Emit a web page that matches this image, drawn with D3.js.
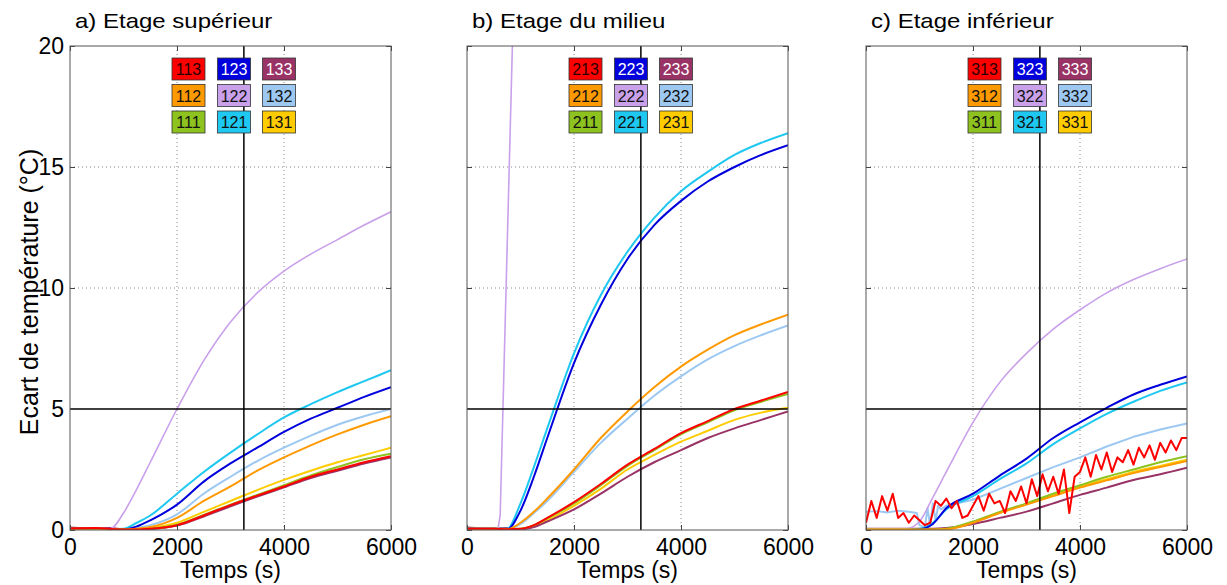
<!DOCTYPE html>
<html>
<head>
<meta charset="utf-8">
<script src="https://cdn.jsdelivr.net/npm/d3@7"></script>
<style>
  body { margin: 0; background: #fff; }
  text { font-family: "Liberation Sans", Arial, sans-serif; fill: #000; }
</style>
</head>
<body>
<div id="chart"></div>
<script>
// shared time grid (s) for the smooth curves
const tGrid = [0, 500, 750, 1000, 1250, 1500, 2000, 2500, 3000, 3500, 4000, 4500, 5000, 5500, 6000];

// a) Etage superieur
const a11 = [0.05, 0.05, 0.03, 0.02, 0.02, 0.05, 0.22, 0.62, 1.05, 1.45, 1.85, 2.25, 2.6, 2.92, 3.15];
const a12 = [0.05, 0.05, 0.03, 0.02, 0.05, 0.12, 0.5, 1.2, 1.8, 2.45, 3.0, 3.5, 3.95, 4.35, 4.7];
const a13 = [0.06, 0.08, 0.04, 0.02, 0.02, 0.05, 0.2, 0.6, 1.03, 1.42, 1.8, 2.2, 2.5, 2.8, 3.05];
const a21 = [0.05, 0.05, 0.03, 0.05, 0.3, 0.6, 1.5, 2.4, 3.2, 3.95, 4.65, 5.2, 5.7, 6.15, 6.6];
const a22 = [0.05, 0.05, 0.05, 0.7, 1.7, 2.8, 5.0, 7.0, 8.6, 9.8, 10.7, 11.4, 12.0, 12.6, 13.15];
const a23 = [0.05, 0.05, 0.03, 0.03, 0.15, 0.4, 1.05, 2.0, 2.75, 3.4, 4.05, 4.6, 5.05, 5.5, 5.9];
const a31 = [0.05, 0.05, 0.03, 0.02, 0.03, 0.08, 0.3, 0.75, 1.2, 1.65, 2.07, 2.45, 2.8, 3.1, 3.4];
const a32 = [0.05, 0.05, 0.03, 0.02, 0.08, 0.2, 0.65, 1.5, 2.2, 2.85, 3.4, 3.9, 4.35, 4.7, 5.0];
const a33 = [0.1, 0.06, 0.08, 0.03, 0.02, 0.04, 0.18, 0.56, 0.98, 1.38, 1.76, 2.15, 2.45, 2.75, 3.0];

// b) Etage du milieu
const b11 = [0.05, 0.05, 0.03, 0.05, 0.2, 0.48, 1.1, 1.85, 2.65, 3.3, 3.95, 4.45, 4.95, 5.3, 5.62];
const b12 = [0.05, 0.05, 0.03, 0.3, 0.75, 1.3, 2.5, 3.8, 4.9, 5.9, 6.75, 7.45, 8.05, 8.5, 8.9];
const b13 = [0.05, 0.05, 0.03, 0.05, 0.2, 0.5, 1.15, 1.9, 2.7, 3.35, 4.0, 4.5, 5.0, 5.35, 5.7];
const b21 = [0.05, 0.05, 0.05, 1.1, 2.6, 4.2, 7.3, 9.7, 11.5, 12.9, 14.0, 14.8, 15.5, 16.0, 16.4];
const b22Times = [0, 300, 580, 620, 860];
const b22 = [0.05, 0.08, 0.05, 0.6, 21];
const b23 = [0.05, 0.05, 0.02, 0.8, 2.2, 3.8, 6.9, 9.3, 11.2, 12.6, 13.6, 14.4, 15.0, 15.5, 15.9];
const b31 = [0.05, 0.05, 0.03, 0.04, 0.15, 0.4, 1.0, 1.7, 2.5, 3.1, 3.65, 4.1, 4.55, 4.85, 5.05];
const b32 = [0.05, 0.05, 0.03, 0.25, 0.7, 1.2, 2.4, 3.6, 4.6, 5.55, 6.35, 7.05, 7.6, 8.05, 8.45];
const b33 = [0.1, 0.06, 0.08, 0.03, 0.12, 0.35, 0.85, 1.5, 2.2, 2.8, 3.3, 3.8, 4.2, 4.55, 4.9];

// c) Etage inferieur
const c11 = [0.02, 0.02, 0.02, 0.02, 0.02, 0.05, 0.35, 0.75, 1.1, 1.5, 1.85, 2.2, 2.5, 2.8, 3.05];
const c12 = [0.02, 0.02, 0.02, 0.02, 0.02, 0.03, 0.3, 0.7, 1.05, 1.4, 1.75, 2.05, 2.35, 2.6, 2.85];
const c13Times = d3.range(0, 6001, 100);
const c13 = [0.3, 1.2, 0.5, 1.4, 0.8, 1.5, 0.5, 0.7, 0.3, 0.6,
             0.4, 0.2, 0.3, 1.2, 1.0, 1.3, 0.9, 1.2, 0.5, 0.6,
             1.0, 1.4, 0.8, 1.5, 1.1, 1.2, 0.7, 1.6, 1.2, 1.8,
             1.1, 2.1, 1.4, 2.3, 1.6, 2.2, 1.5, 2.5, 0.7, 2.2,
             2.4, 3.0, 2.2, 3.1, 2.5, 3.2, 2.4, 3.0, 2.8, 3.3,
             2.7, 3.4, 3.0, 3.5, 2.9, 3.6, 3.2, 3.7, 3.3, 3.8, 3.8];
const c21 = [0.02, 0.02, 0.02, 0.05, 0.3, 0.85, 1.4, 2.1, 2.75, 3.55, 4.2, 4.8, 5.3, 5.75, 6.1];
const c22 = [0.05, 0.05, 0.05, 0.35, 1.35, 2.4, 4.45, 6.1, 7.3, 8.3, 9.1, 9.8, 10.35, 10.8, 11.2];
const c23 = [0, 0, 0, 0.03, 0.25, 0.9, 1.5, 2.25, 2.95, 3.8, 4.45, 5.05, 5.6, 6.0, 6.35];
const c31 = [0.02, 0.02, 0.02, 0.02, 0.02, 0.04, 0.33, 0.72, 1.08, 1.45, 1.8, 2.1, 2.4, 2.65, 2.9];
const c32Times = [0, 200, 400, 600, 800, 950, 1000, 1100, 1150, 1200, 1250, 1300, 1350, 1400, 1500,
                  2000, 2500, 3000, 3500, 4000, 4500, 5000, 5500, 6000];
const c32 = [0.75, 0.78, 0.72, 0.8, 0.75, 0.7, 0.2, 0.1, 0.9, 0.15, 1.1, 0.4, 1.0, 0.85, 1.0,
             1.25, 1.7, 2.15, 2.6, 3.0, 3.45, 3.85, 4.15, 4.4];
const c33 = [0.05, 0.05, 0.05, 0.05, 0.05, 0.08, 0.25, 0.5, 0.76, 1.1, 1.45, 1.75, 2.07, 2.3, 2.57];

const titles = ["a) Etage supérieur", "b) Etage du milieu", "c) Etage inférieur"];
const suffixes = ["11", "12", "13", "21", "22", "23", "31", "32", "33"];
const colors = ["#8dc21f", "#ff9900", "#ff0000", "#1ec8f0", "#c9a0ea", "#0000dd", "#ffcc00", "#9cc8f2", "#993366"];
const legendRows = [["13", "23", "33"], ["12", "22", "32"], ["11", "21", "31"]];
const lightText = ["23", "33"];
const drawOrder = ["31", "32", "33", "21", "22", "23", "11", "12", "13"];
const xTicks = [0, 2000, 4000, 6000];
const yTicks = [0, 5, 10, 15, 20];
const xGrid = [2000, 4000];
const yGrid = [10, 15];
const refTime = 3250;
const refTemp = 5;

const zip = (times, vals, jagged) => {
  const pts = times.map((t, i) => [t, vals[i]]);
  pts.jagged = !!jagged;
  return pts;
};
const panels = [
  { left: 70, series: { "11": zip(tGrid, a11), "12": zip(tGrid, a12), "13": zip(tGrid, a13),
      "21": zip(tGrid, a21), "22": zip(tGrid, a22), "23": zip(tGrid, a23),
      "31": zip(tGrid, a31), "32": zip(tGrid, a32), "33": zip(tGrid, a33) } },
  { left: 467, series: { "11": zip(tGrid, b11), "12": zip(tGrid, b12), "13": zip(tGrid, b13),
      "21": zip(tGrid, b21), "22": zip(b22Times, b22, true), "23": zip(tGrid, b23),
      "31": zip(tGrid, b31), "32": zip(tGrid, b32), "33": zip(tGrid, b33) } },
  { left: 866, series: { "11": zip(tGrid, c11), "12": zip(tGrid, c12), "13": zip(c13Times, c13, true),
      "21": zip(tGrid, c21), "22": zip(tGrid, c22), "23": zip(tGrid, c23),
      "31": zip(tGrid, c31), "32": zip(c32Times, c32, true), "33": zip(tGrid, c33) } }
];

const W = 1227, H = 585;
const pw = 321, plotTop = 46, plotBottom = 530;
const color = d3.scaleOrdinal().domain(suffixes).range(colors);

const svg = d3.select("#chart").append("svg")
  .attr("width", W).attr("height", H)
  .style("background", "#fff");

const y = d3.scaleLinear().domain([0, 20]).range([plotBottom, plotTop]);

panels.forEach((p, pi) => {
  const left = p.left, right = left + pw;
  const x = d3.scaleLinear().domain([0, 6000]).range([left, right]);
  const g = svg.append("g");

  g.append("clipPath").attr("id", "clip" + pi)
    .append("rect").attr("x", left).attr("y", plotTop).attr("width", pw).attr("height", plotBottom - plotTop);

  // dotted grid
  g.selectAll(".gx").data(xGrid).join("line")
    .attr("x1", d => x(d)).attr("x2", d => x(d)).attr("y1", plotTop).attr("y2", plotBottom)
    .attr("stroke", "#888").attr("stroke-dasharray", "1,3");
  g.selectAll(".gy").data(yGrid).join("line")
    .attr("y1", d => y(d)).attr("y2", d => y(d)).attr("x1", left).attr("x2", right)
    .attr("stroke", "#888").attr("stroke-dasharray", "1,3");

  // data
  const smooth = d3.line().x(d => x(d[0])).y(d => y(d[1])).curve(d3.curveMonotoneX);
  const rough = d3.line().x(d => x(d[0])).y(d => y(d[1]));
  g.append("g").attr("clip-path", `url(#clip${pi})`)
    .selectAll("path").data(drawOrder).join("path")
    .attr("d", s => (p.series[s].jagged ? rough : smooth)(p.series[s]))
    .attr("fill", "none")
    .attr("stroke", s => color(s))
    .attr("stroke-width", s => (s === "22" ? 1.6 : 2))
    .attr("stroke-linejoin", "round");

  // reference lines
  g.append("line").attr("x1", left).attr("x2", right).attr("y1", y(refTemp)).attr("y2", y(refTemp))
    .attr("stroke", "#000").attr("stroke-width", 1.5);
  g.append("line").attr("x1", x(refTime)).attr("x2", x(refTime)).attr("y1", plotTop).attr("y2", plotBottom)
    .attr("stroke", "#000").attr("stroke-width", 1.5);

  // axes
  g.append("g").attr("transform", `translate(0,${plotBottom})`)
    .call(d3.axisBottom(x).tickValues(xTicks).tickSizeInner(-5).tickSizeOuter(0).tickPadding(9)
      .tickFormat(d3.format("d")));
  g.append("g").attr("transform", `translate(0,${plotTop})`)
    .call(d3.axisTop(x).tickValues(xTicks).tickSizeInner(-5).tickSizeOuter(0).tickFormat(""));
  g.append("g").attr("transform", `translate(${left},0)`)
    .call(d3.axisLeft(y).tickValues(yTicks).tickSizeInner(-5).tickSizeOuter(0).tickPadding(6)
      .tickFormat(pi === 0 ? d3.format("d") : ""));
  g.append("g").attr("transform", `translate(${right},0)`)
    .call(d3.axisRight(y).tickValues(yTicks).tickSizeInner(-5).tickSizeOuter(0).tickFormat(""));
  g.selectAll(".domain").remove();
  g.selectAll(".tick line").attr("stroke", "#444");
  g.selectAll(".tick text").style("font-size", "23px")
    .style("font-family", "'Liberation Sans', Arial, sans-serif").attr("fill", "#000");

  g.append("rect").attr("x", left).attr("y", plotTop).attr("width", pw).attr("height", plotBottom - plotTop)
    .attr("fill", "none").attr("stroke", "#555").attr("stroke-width", 1);

  // legend boxes
  const colX = [102, 147.5, 192.5];
  const rowY = [12, 38.5, 65];
  legendRows.forEach((row, ri) => {
    row.forEach((s, ci) => {
      const bx = left + colX[ci], by = plotTop + rowY[ri];
      g.append("rect").attr("x", bx).attr("y", by).attr("width", 33).attr("height", 22)
        .attr("fill", color(s)).attr("stroke", "#333").attr("stroke-width", 0.8);
      g.append("text").attr("x", bx + 16.5).attr("y", by + 17)
        .attr("text-anchor", "middle").style("font-size", "16px")
        .style("fill", lightText.includes(s) ? "#fff" : (s === "13" ? "#2a0000" : "#111"))
        .text((pi + 1) + s);
    });
  });

  // title
  g.append("text")
    .attr("transform", `translate(${left + 5},28) scale(1.2,1)`)
    .style("font-size", "20px")
    .text(titles[pi]);

  // x label
  g.append("text").attr("x", (left + right) / 2).attr("y", 578)
    .attr("text-anchor", "middle").style("font-size", "23px")
    .text("Temps (s)");
});

svg.append("text")
  .attr("transform", "translate(38,292) rotate(-90)")
  .attr("text-anchor", "middle").style("font-size", "25px")
  .text("Ecart de température (°C)");
</script>
</body>
</html>
